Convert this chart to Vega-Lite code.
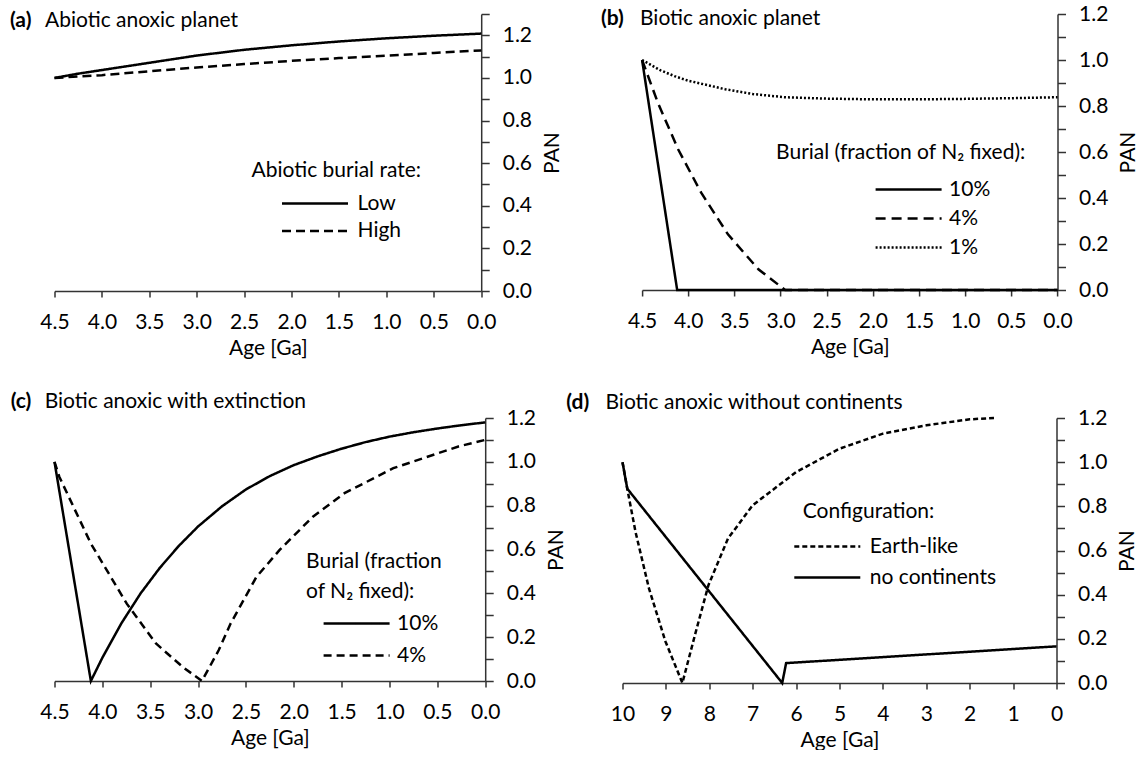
{
  "$schema": "https://vega.github.io/schema/vega-lite/v6.json",
  "background": "white",
  "padding": {"left": 8.5, "top": 3, "right": 0, "bottom": 0},
  "bounds": "full",
  "spacing": 32,
  "resolve": {"scale": {"x": "independent", "y": "independent", "strokeDash": "independent"}, "legend": {"strokeDash": "independent"}},
  "datasets": {
    "a": [
      {"age": 4.5, "pan": 1.0, "series": "Low"}, {"age": 4.25, "pan": 1.02, "series": "Low"}, {"age": 4.0, "pan": 1.037, "series": "Low"}, {"age": 3.5, "pan": 1.071, "series": "Low"}, {"age": 3.0, "pan": 1.105, "series": "Low"}, {"age": 2.5, "pan": 1.132, "series": "Low"}, {"age": 2.0, "pan": 1.153, "series": "Low"}, {"age": 1.5, "pan": 1.171, "series": "Low"}, {"age": 1.0, "pan": 1.186, "series": "Low"}, {"age": 0.5, "pan": 1.198, "series": "Low"}, {"age": 0.0, "pan": 1.208, "series": "Low"},
      {"age": 4.5, "pan": 1.0, "series": "High"}, {"age": 4.0, "pan": 1.013, "series": "High"}, {"age": 3.5, "pan": 1.031, "series": "High"}, {"age": 3.0, "pan": 1.049, "series": "High"}, {"age": 2.5, "pan": 1.065, "series": "High"}, {"age": 2.0, "pan": 1.08, "series": "High"}, {"age": 1.5, "pan": 1.093, "series": "High"}, {"age": 1.0, "pan": 1.104, "series": "High"}, {"age": 0.5, "pan": 1.117, "series": "High"}, {"age": 0.0, "pan": 1.129, "series": "High"}
    ],
    "b": [
      {"age": 4.5, "pan": 1.0, "series": "10%"}, {"age": 4.12, "pan": 0.0, "series": "10%"}, {"age": 0.0, "pan": 0.0, "series": "10%"},
      {"age": 4.5, "pan": 1.0, "series": "4%"}, {"age": 4.33, "pan": 0.815, "series": "4%"}, {"age": 4.11, "pan": 0.612, "series": "4%"}, {"age": 3.86, "pan": 0.423, "series": "4%"}, {"age": 3.57, "pan": 0.242, "series": "4%"}, {"age": 3.24, "pan": 0.09, "series": "4%"}, {"age": 2.95, "pan": 0.0, "series": "4%"}, {"age": 0.0, "pan": 0.0, "series": "4%"},
      {"age": 4.5, "pan": 1.0, "series": "1%"}, {"age": 4.3, "pan": 0.955, "series": "1%"}, {"age": 4.15, "pan": 0.93, "series": "1%"}, {"age": 4.0, "pan": 0.91, "series": "1%"}, {"age": 3.6, "pan": 0.873, "series": "1%"}, {"age": 3.3, "pan": 0.852, "series": "1%"}, {"age": 2.95, "pan": 0.838, "series": "1%"}, {"age": 2.5, "pan": 0.832, "series": "1%"}, {"age": 2.0, "pan": 0.829, "series": "1%"}, {"age": 1.5, "pan": 0.829, "series": "1%"}, {"age": 1.0, "pan": 0.831, "series": "1%"}, {"age": 0.5, "pan": 0.834, "series": "1%"}, {"age": 0.0, "pan": 0.838, "series": "1%"}
    ],
    "c": [
      {"age": 4.5, "pan": 1.0, "series": "10%"}, {"age": 4.12, "pan": 0.0, "series": "10%"}, {"age": 4.0, "pan": 0.106, "series": "10%"}, {"age": 3.8, "pan": 0.264, "series": "10%"}, {"age": 3.6, "pan": 0.4, "series": "10%"}, {"age": 3.4, "pan": 0.516, "series": "10%"}, {"age": 3.2, "pan": 0.617, "series": "10%"}, {"age": 3.0, "pan": 0.705, "series": "10%"}, {"age": 2.75, "pan": 0.797, "series": "10%"}, {"age": 2.5, "pan": 0.874, "series": "10%"}, {"age": 2.25, "pan": 0.935, "series": "10%"}, {"age": 2.0, "pan": 0.985, "series": "10%"}, {"age": 1.75, "pan": 1.025, "series": "10%"}, {"age": 1.5, "pan": 1.06, "series": "10%"}, {"age": 1.25, "pan": 1.09, "series": "10%"}, {"age": 1.0, "pan": 1.115, "series": "10%"}, {"age": 0.75, "pan": 1.135, "series": "10%"}, {"age": 0.5, "pan": 1.152, "series": "10%"}, {"age": 0.25, "pan": 1.167, "series": "10%"}, {"age": 0.0, "pan": 1.18, "series": "10%"},
      {"age": 4.5, "pan": 1.0, "series": "4%"}, {"age": 4.45, "pan": 0.932, "series": "4%"}, {"age": 4.12, "pan": 0.627, "series": "4%"}, {"age": 3.745, "pan": 0.353, "series": "4%"}, {"age": 3.44, "pan": 0.171, "series": "4%"}, {"age": 3.16, "pan": 0.064, "series": "4%"}, {"age": 2.96, "pan": 0.0, "series": "4%"}, {"age": 2.785, "pan": 0.14, "series": "4%"}, {"age": 2.66, "pan": 0.262, "series": "4%"}, {"age": 2.39, "pan": 0.475, "series": "4%"}, {"age": 2.15, "pan": 0.597, "series": "4%"}, {"age": 1.8, "pan": 0.75, "series": "4%"}, {"age": 1.47, "pan": 0.857, "series": "4%"}, {"age": 0.96, "pan": 0.971, "series": "4%"}, {"age": 0.28, "pan": 1.07, "series": "4%"}, {"age": 0.0, "pan": 1.1, "series": "4%"}
    ],
    "d": [
      {"age": 10.0, "pan": 1.0, "series": "Earth-like"}, {"age": 9.89, "pan": 0.88, "series": "Earth-like"}, {"age": 9.7, "pan": 0.684, "series": "Earth-like"}, {"age": 9.39, "pan": 0.428, "series": "Earth-like"}, {"age": 9.01, "pan": 0.188, "series": "Earth-like"}, {"age": 8.62, "pan": 0.0, "series": "Earth-like"}, {"age": 8.33, "pan": 0.218, "series": "Earth-like"}, {"age": 8.02, "pan": 0.443, "series": "Earth-like"}, {"age": 7.57, "pan": 0.654, "series": "Earth-like"}, {"age": 7.0, "pan": 0.805, "series": "Earth-like"}, {"age": 6.0, "pan": 0.955, "series": "Earth-like"}, {"age": 5.0, "pan": 1.061, "series": "Earth-like"}, {"age": 4.0, "pan": 1.129, "series": "Earth-like"}, {"age": 3.0, "pan": 1.167, "series": "Earth-like"}, {"age": 2.0, "pan": 1.194, "series": "Earth-like"}, {"age": 1.44, "pan": 1.2, "series": "Earth-like"},
      {"age": 10.0, "pan": 1.0, "series": "no continents"}, {"age": 9.89, "pan": 0.88, "series": "no continents"}, {"age": 6.32, "pan": 0.0, "series": "no continents"}, {"age": 6.23, "pan": 0.09, "series": "no continents"}, {"age": 0.0, "pan": 0.166, "series": "no continents"}
    ]
  },
  "vconcat": [
    {
      "hconcat": [
        {
          "width": 426.7, "height": 277,
          "data": {"name": "a"},
          "resolve": {"axis": {"x": "independent", "y": "independent"}},
          "layer": [
            {
              "mark": {"type": "line", "color": "black", "strokeWidth": 2.5},
              "encoding": {
                "x": {"field": "age", "type": "quantitative", "scale": {"domain": [0, 4.5], "reverse": true, "nice": false, "zero": false}, "axis": {"values": [0, 0.5, 1, 1.5, 2, 2.5, 3, 3.5, 4, 4.5], "format": ".1f", "title": "Age [Ga]"}},
                "y": {"field": "pan", "type": "quantitative", "scale": {"domain": [0, 1.3], "nice": false}, "axis": {"orient": "right", "values": [0, 0.1, 0.2, 0.3, 0.4, 0.5, 0.6, 0.7, 0.8, 0.9, 1.0, 1.1, 1.2, 1.3], "labelExpr": "round(datum.value*10)%2==0 ? format(datum.value,'.1f') : ''", "title": "PAN", "titleAngle": 270, "titleBaseline": "top"}},
                "strokeDash": {"field": "series", "type": "nominal", "scale": {"domain": ["Low", "High"], "range": [[1, 0], [9, 5]]},
                  "legend": {"title": "Abiotic burial rate:", "orient": "none", "legendX": 197, "legendY": 146, "symbolOffset": 53, "labelOffset": 32, "titlePadding": 12, "rowPadding": 5.5}}
              }
            },
            {
              "mark": {"type": "line", "strokeOpacity": 0},
              "encoding": {
                "x": {"field": "age", "type": "quantitative", "axis": {"orient": "top", "domain": false, "ticks": false, "labels": false, "title": "Abiotic anoxic planet", "titleX": -10, "titleY": 6.25, "titleAngle": 0.01, "titleAlign": "left", "titleBaseline": "middle"}},
                "y": {"field": "pan", "type": "quantitative", "axis": {"orient": "left", "domain": false, "ticks": false, "labels": false, "title": "(a)", "titleX": -45, "titleY": 6.25, "titleAngle": 0.01, "titleAlign": "left", "titleBaseline": "middle", "titleFontWeight": "bold"}},
                "detail": {"field": "series"}
              }
            }
          ]
        },
        {
          "width": 415.4, "height": 276,
          "data": {"name": "b"},
          "resolve": {"axis": {"x": "independent", "y": "independent"}},
          "layer": [
            {
              "mark": {"type": "line", "color": "black", "strokeWidth": 2.5},
              "encoding": {
                "x": {"field": "age", "type": "quantitative", "scale": {"domain": [0, 4.5], "reverse": true, "nice": false, "zero": false}, "axis": {"values": [0, 0.5, 1, 1.5, 2, 2.5, 3, 3.5, 4, 4.5], "format": ".1f", "title": "Age [Ga]"}},
                "y": {"field": "pan", "type": "quantitative", "scale": {"domain": [0, 1.2], "nice": false}, "axis": {"orient": "right", "values": [0, 0.1, 0.2, 0.3, 0.4, 0.5, 0.6, 0.7, 0.8, 0.9, 1.0, 1.1, 1.2], "labelExpr": "round(datum.value*10)%2==0 ? format(datum.value,'.1f') : ''", "title": "PAN", "titleAngle": 270, "titleBaseline": "top"}},
                "strokeDash": {"field": "series", "type": "nominal", "scale": {"domain": ["10%", "4%", "1%"], "range": [[1, 0], [10, 6], [2, 2]]},
                  "legend": {"title": "Burial (fraction of N₂ fixed):", "orient": "none", "legendX": 134, "legendY": 128, "symbolOffset": 122, "labelOffset": 30, "titlePadding": 16, "rowPadding": 7}}
              }
            },
            {
              "mark": {"type": "line", "strokeOpacity": 0},
              "encoding": {
                "x": {"field": "age", "type": "quantitative", "axis": {"orient": "top", "domain": false, "ticks": false, "labels": false, "title": "Biotic anoxic planet", "titleX": -2.6, "titleY": 4.3, "titleAngle": 0.01, "titleAlign": "left", "titleBaseline": "middle"}},
                "y": {"field": "pan", "type": "quantitative", "axis": {"orient": "left", "domain": false, "ticks": false, "labels": false, "title": "(b)", "titleX": -41.6, "titleY": 4.3, "titleAngle": 0.01, "titleAlign": "left", "titleBaseline": "middle", "titleFontWeight": "bold"}},
                "detail": {"field": "series"}
              }
            }
          ]
        }
      ],
      "spacing": 160.6,
      "bounds": "flush",
      "resolve": {"scale": {"x": "independent", "y": "independent", "strokeDash": "independent"}, "legend": {"strokeDash": "independent"}}
    },
    {
      "hconcat": [
        {
          "width": 430.7, "height": 263,
          "data": {"name": "c"},
          "resolve": {"axis": {"x": "independent", "y": "independent"}},
          "layer": [
            {
              "mark": {"type": "line", "color": "black", "strokeWidth": 2.5},
              "encoding": {
                "x": {"field": "age", "type": "quantitative", "scale": {"domain": [0, 4.5], "reverse": true, "nice": false, "zero": false}, "axis": {"values": [0, 0.5, 1, 1.5, 2, 2.5, 3, 3.5, 4, 4.5], "format": ".1f", "title": "Age [Ga]"}},
                "y": {"field": "pan", "type": "quantitative", "scale": {"domain": [0, 1.2], "nice": false}, "axis": {"orient": "right", "values": [0, 0.1, 0.2, 0.3, 0.4, 0.5, 0.6, 0.7, 0.8, 0.9, 1.0, 1.1, 1.2], "labelExpr": "round(datum.value*10)%2==0 ? format(datum.value,'.1f') : ''", "title": "PAN", "titleAngle": 270, "titleBaseline": "top"}},
                "strokeDash": {"field": "series", "type": "nominal", "scale": {"domain": ["10%", "4%"], "range": [[1, 0], [8, 5]]},
                  "legend": {"title": ["Burial (fraction", "of N₂ fixed):"], "titleLineHeight": 30, "orient": "none", "legendX": 251.6, "legendY": 133, "symbolOffset": 40, "labelOffset": 30, "titlePadding": 11, "rowPadding": 10}}
              }
            },
            {
              "mark": {"type": "line", "strokeOpacity": 0},
              "encoding": {
                "x": {"field": "age", "type": "quantitative", "axis": {"orient": "top", "domain": false, "ticks": false, "labels": false, "title": "Biotic anoxic with extinction", "titleX": -10.3, "titleY": -16.7, "titleAngle": 0.01, "titleAlign": "left", "titleBaseline": "middle"}},
                "y": {"field": "pan", "type": "quantitative", "axis": {"orient": "left", "domain": false, "ticks": false, "labels": false, "title": "(c)", "titleX": -44.3, "titleY": -16.7, "titleAngle": 0.01, "titleAlign": "left", "titleBaseline": "middle", "titleFontWeight": "bold"}},
                "detail": {"field": "series"}
              }
            }
          ]
        },
        {
          "width": 434, "height": 265,
          "data": {"name": "d"},
          "resolve": {"axis": {"x": "independent", "y": "independent"}},
          "layer": [
            {
              "mark": {"type": "line", "color": "black", "strokeWidth": 2.5},
              "encoding": {
                "x": {"field": "age", "type": "quantitative", "scale": {"domain": [0, 10], "reverse": true, "nice": false, "zero": false}, "axis": {"values": [0, 1, 2, 3, 4, 5, 6, 7, 8, 9, 10], "format": "d", "title": "Age [Ga]"}},
                "y": {"field": "pan", "type": "quantitative", "scale": {"domain": [0, 1.2], "nice": false}, "axis": {"orient": "right", "values": [0, 0.1, 0.2, 0.3, 0.4, 0.5, 0.6, 0.7, 0.8, 0.9, 1.0, 1.1, 1.2], "labelExpr": "round(datum.value*10)%2==0 ? format(datum.value,'.1f') : ''", "title": "PAN", "titleAngle": 270, "titleBaseline": "top"}},
                "strokeDash": {"field": "series", "type": "nominal", "scale": {"domain": ["Earth-like", "no continents"], "range": [[5, 3], [1, 0]]},
                  "legend": {"title": "Configuration:", "orient": "none", "legendX": 180.3, "legendY": 83, "symbolOffset": 14, "labelOffset": 32, "titlePadding": 14, "rowPadding": 9}}
              }
            },
            {
              "mark": {"type": "line", "strokeOpacity": 0},
              "encoding": {
                "x": {"field": "age", "type": "quantitative", "axis": {"orient": "top", "domain": false, "ticks": false, "labels": false, "title": "Biotic anoxic without continents", "titleX": -17.5, "titleY": -15.5, "titleAngle": 0.01, "titleAlign": "left", "titleBaseline": "middle"}},
                "y": {"field": "pan", "type": "quantitative", "axis": {"orient": "left", "domain": false, "ticks": false, "labels": false, "title": "(d)", "titleX": -56.7, "titleY": -15.5, "titleAngle": 0.01, "titleAlign": "left", "titleBaseline": "middle", "titleFontWeight": "bold"}},
                "detail": {"field": "series"}
              }
            }
          ]
        }
      ],
      "spacing": 137,
      "bounds": "flush",
      "resolve": {"scale": {"x": "independent", "y": "independent", "strokeDash": "independent"}, "legend": {"strokeDash": "independent"}}
    }
  ],
  "config": {
    "font": "Lato",
    "view": {"stroke": null},
    "axis": {
      "grid": false,
      "domainColor": "#333333", "domainWidth": 1.5,
      "tickColor": "#333333", "tickWidth": 1.5,
      "labelColor": "black", "labelFontSize": 21, "labelFont": "Lato",
      "titleColor": "black", "titleFontSize": 21, "titleFontWeight": "normal", "titleFont": "Lato"
    },
    "axisX": {"tickSize": 6, "labelPadding": 14, "titlePadding": 5, "labelFlush": false, "labelOverlap": false},
    "axisY": {"tickSize": 8, "labelPadding": 13, "titlePadding": 10, "labelFlush": false, "labelOverlap": false, "labelAlign": "left", "labelBaseline": "middle"},
    "legend": {
      "titleFontSize": 21, "titleFontWeight": "normal", "titleColor": "black", "titleFont": "Lato",
      "labelFontSize": 21, "labelColor": "black", "labelFont": "Lato",
      "symbolType": "M-6,0H6", "symbolSize": 121, "symbolStrokeWidth": 2.5, "symbolStrokeColor": "black", "symbolFillColor": "transparent",
      "padding": 0, "titleLimit": 400, "labelLimit": 300
    }
  }
}
